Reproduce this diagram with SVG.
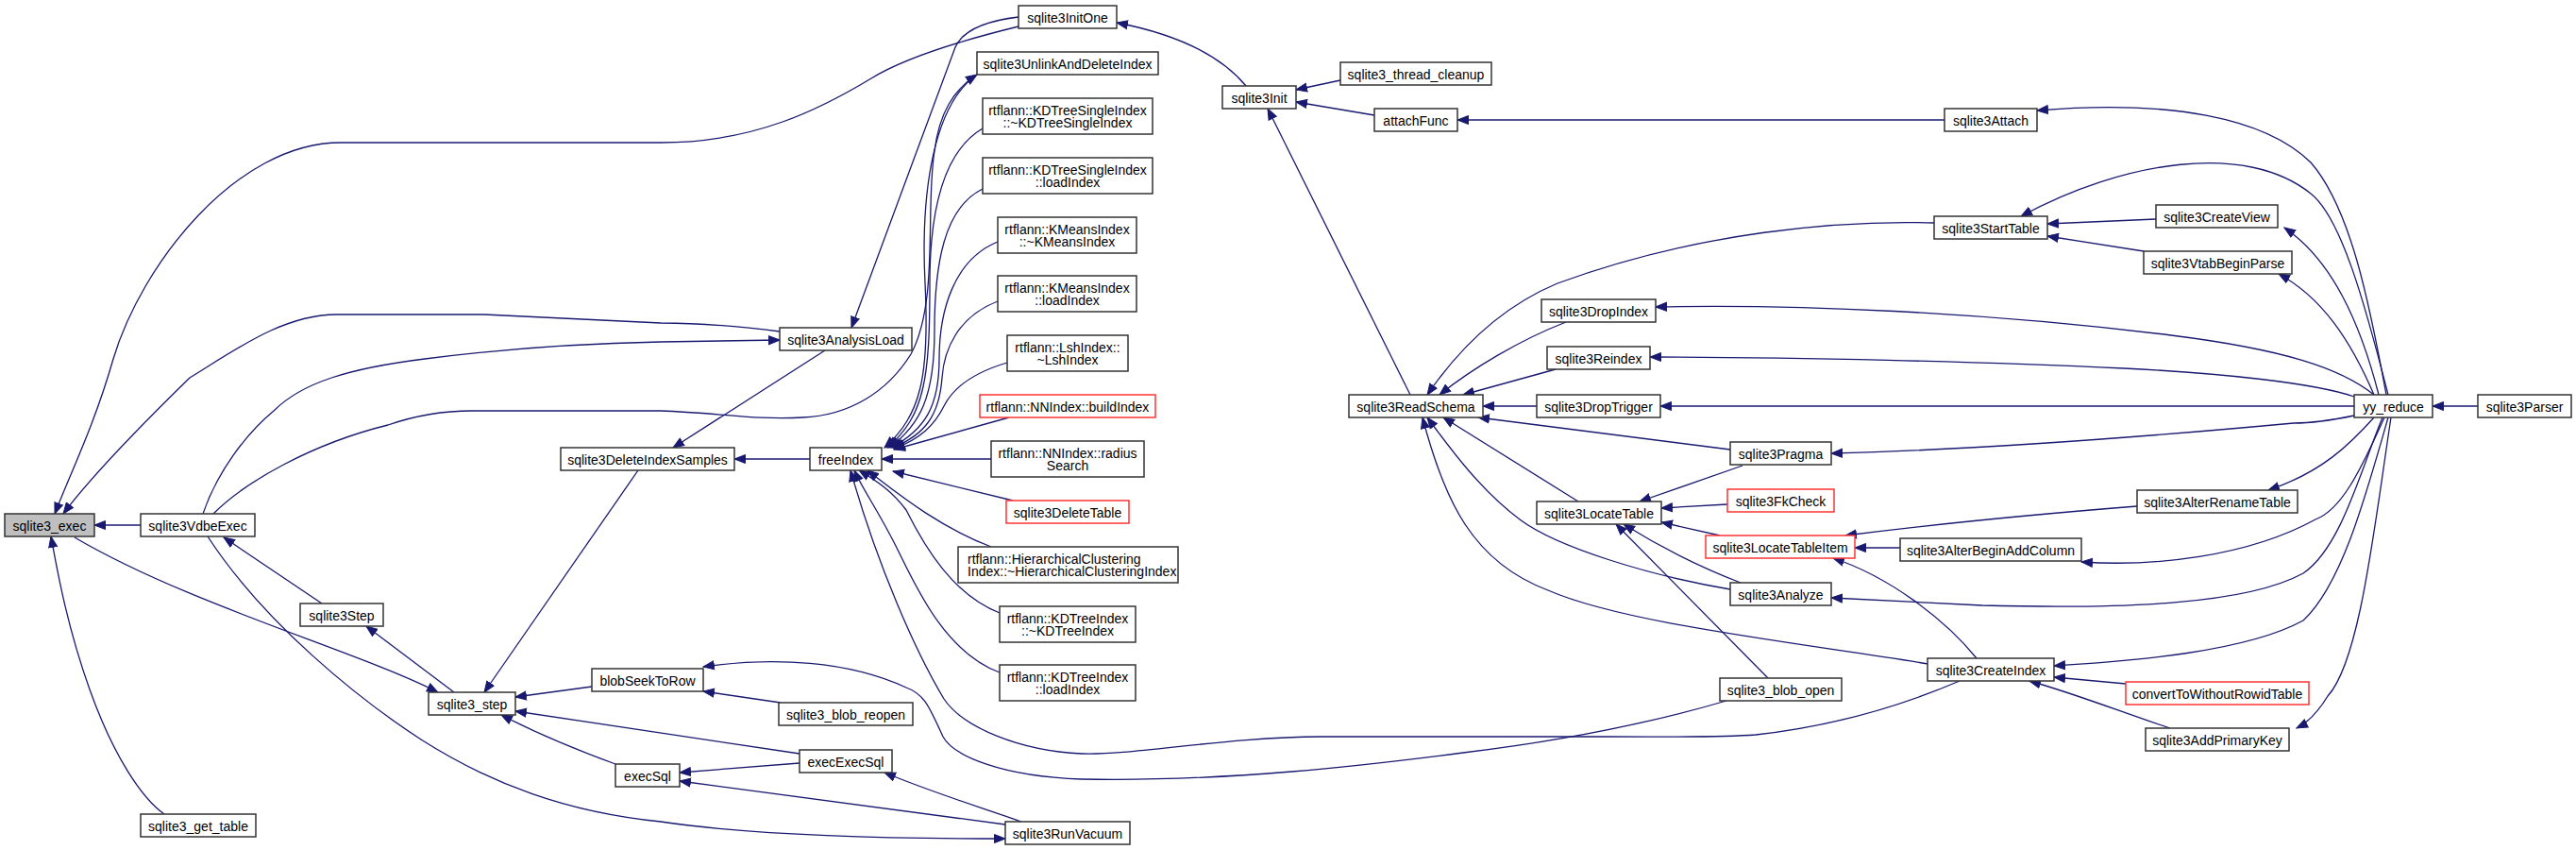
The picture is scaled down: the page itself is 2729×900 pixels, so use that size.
<svg xmlns="http://www.w3.org/2000/svg" width="2729" height="900" viewBox="0 0 2729 900">
<style>
.n rect{fill:#ffffff;stroke:#333333;stroke-width:1.5}
.n.root rect{fill:#bfbfbf}
.n.red rect{stroke:#ff3333}
.n text{font-family:"Liberation Sans",Arial,Helvetica,sans-serif;font-size:14px;fill:#000000;text-anchor:middle}
.n text.l{text-anchor:start}
#edges path{fill:none;stroke:#191970;stroke-width:1.3;marker-end:url(#ah)}
</style>
<defs>
<marker id="ah" markerUnits="userSpaceOnUse" markerWidth="13" markerHeight="11" refX="12" refY="5.5" orient="auto">
<path d="M0.5,1 L12,5.5 L0.5,10 z" fill="#191970" stroke="#191970" stroke-width="1"/>
</marker>
</defs>
<rect width="2729" height="900" fill="#ffffff"/>
<g id="edges">
<path d="M1079,28 C1030,40 960,60 923,83 C870,115 800,151 700,151 L361,151 C250,151 150,280 120,380 C100,450 75,500 58,544"/>
<path d="M826,351 C780,345 740,342 700,342 L513,333 L357,333 C300,333 250,370 201,400 C160,440 100,500 67,544"/>
<path d="M215,544 C230,500 260,460 290,435 C320,405 370,390 450,380 C550,367 650,363 700,362 L826,360"/>
<path d="M226,544 C260,510 330,470 411,450 C440,440 470,435 500,435 L700,435 C760,437 800,445 850,442 C900,440 940,415 965,375 C995,320 980,220 990,160 C995,120 1010,95 1035,79"/>
<path d="M149,556 L100,556"/>
<path d="M174,862 C150,845 120,800 95,730 C70,660 60,600 54,568"/>
<path d="M79,569 C200,640 380,690 464,733"/>
<path d="M220,568 C280,660 380,740 446,783 C520,830 600,860 700,870 C800,885 950,888 1065,888"/>
<path d="M341,639 L237,569"/>
<path d="M481,733 L388,663"/>
<path d="M676,498 L513,733"/>
<path d="M627,727 L546,738"/>
<path d="M847,798 L546,753"/>
<path d="M652,809 C600,790 560,772 531,757"/>
<path d="M874,371 L713,474"/>
<path d="M858,486 L778,486"/>
<path d="M1035,79 C990,110 975,200 980,300 C985,400 975,440 937,474"/>
<path d="M1041,136 C1000,160 985,220 985,300 C985,400 980,440 940,474"/>
<path d="M1041,200 C1000,220 990,280 990,350 C990,420 975,450 942,474"/>
<path d="M1057,256 C1010,275 995,330 995,380 C995,430 980,455 944,474"/>
<path d="M1057,319 C1015,335 1000,370 998,400 C995,440 980,460 946,474"/>
<path d="M1067,384 C1030,395 1010,410 1000,430 C990,450 975,465 947,475"/>
<path d="M1069,442 L947,476"/>
<path d="M1050,486 L934,486"/>
<path d="M1073,530 L946,499"/>
<path d="M1050,579 C1000,560 960,530 919,498"/>
<path d="M1059,649 C1010,630 980,580 960,540 C945,520 930,510 910,498"/>
<path d="M1059,712 C1000,690 970,620 950,580 C930,540 915,520 905,498"/>
<path d="M2076,721 C2020,745 1950,768 1860,778 C1820,781 1780,780 1700,780 L1400,780 C1300,780 1200,800 1146,798 C1080,795 1020,770 1000,740 C970,690 930,600 901,498"/>
<path d="M1829,742 C1750,765 1650,785 1550,797 C1450,810 1300,828 1146,825 C1060,822 1010,800 999,780 C985,750 980,735 960,728 C900,700 820,695 745,706"/>
<path d="M827,744 L745,732"/>
<path d="M847,808 L720,818"/>
<path d="M1065,873 L720,827"/>
<path d="M1082,870 C1040,855 990,840 937,818"/>
<path d="M1079,18 C1045,22 1020,32 1012,50 L902,347"/>
<path d="M1320,91 C1290,55 1240,35 1183,24"/>
<path d="M1420,85 L1373,95"/>
<path d="M1456,122 L1373,108"/>
<path d="M1494,418 L1343,115"/>
<path d="M2060,127 L1544,127"/>
<path d="M2049,236 C1950,233 1800,245 1650,300 C1590,325 1545,370 1512,418"/>
<path d="M1659,341 C1610,360 1560,390 1525,418"/>
<path d="M1648,391 L1550,418"/>
<path d="M1628,430 L1571,430"/>
<path d="M1833,476 L1566,442"/>
<path d="M1672,531 L1529,442"/>
<path d="M1833,624 C1750,610 1650,580 1610,550 C1570,520 1540,480 1512,442"/>
<path d="M2043,703 C1900,680 1720,660 1640,625 C1560,595 1530,530 1507,442"/>
<path d="M1846,493 L1737,531"/>
<path d="M1830,534 L1760,538"/>
<path d="M1822,567 L1760,553"/>
<path d="M1844,617 C1800,600 1760,580 1720,555"/>
<path d="M1873,718 L1712,555"/>
<path d="M2013,580 L1965,580"/>
<path d="M2264,536 C2150,545 2050,555 1955,567"/>
<path d="M2094,697 C2060,655 2000,610 1942,591"/>
<path d="M2524,442 C2500,500 2480,580 2440,607 C2380,640 2250,645 2100,641 L1940,633"/>
<path d="M2528,418 C2510,320 2490,220 2448,172 C2400,125 2300,105 2158,117"/>
<path d="M2530,418 C2505,320 2480,230 2448,205 C2380,150 2250,170 2141,229"/>
<path d="M2284,232 L2169,237"/>
<path d="M2271,266 L2169,250"/>
<path d="M2520,418 C2500,340 2470,275 2420,241"/>
<path d="M2515,418 C2490,360 2460,315 2414,290"/>
<path d="M2515,418 C2480,390 2420,370 2300,355 C2100,330 1900,322 1754,325"/>
<path d="M2494,420 C2450,405 2350,395 2250,390 C2100,383 1900,378 1748,378"/>
<path d="M2494,430 L1759,430"/>
<path d="M2494,440 C2470,445 2450,448 2430,448 C2300,460 2100,476 1940,480"/>
<path d="M2515,442 C2490,470 2460,500 2403,519"/>
<path d="M2526,442 C2500,500 2480,540 2453,550 C2380,590 2280,600 2205,595"/>
<path d="M2530,442 C2505,530 2480,620 2440,657 C2380,690 2260,700 2176,705"/>
<path d="M2252,724 L2176,717"/>
<path d="M2299,771 C2250,755 2200,735 2150,721"/>
<path d="M2533,442 C2515,560 2500,700 2466,737 C2455,755 2445,765 2433,771"/>
<path d="M2625,430 L2577,430"/>
</g>
<g id="n_exec" class="n root"><rect x="5" y="544" width="95" height="24"/><text x="52.5" y="561.5">sqlite3_exec</text></g>
<g id="n_vdbeexec" class="n"><rect x="149" y="544" width="121" height="24"/><text x="209.5" y="561.5">sqlite3VdbeExec</text></g>
<g id="n_get_table" class="n"><rect x="149" y="862" width="122" height="24"/><text x="210" y="879.5">sqlite3_get_table</text></g>
<g id="n_Step" class="n"><rect x="318" y="639" width="88" height="24"/><text x="362" y="656.5">sqlite3Step</text></g>
<g id="n_step" class="n"><rect x="454" y="733" width="92" height="24"/><text x="500" y="750.5">sqlite3_step</text></g>
<g id="n_delidxsamples" class="n"><rect x="594" y="474" width="184" height="24"/><text x="686" y="491.5">sqlite3DeleteIndexSamples</text></g>
<g id="n_blobseek" class="n"><rect x="627" y="708" width="118" height="24"/><text x="686" y="725.5">blobSeekToRow</text></g>
<g id="n_execsql" class="n"><rect x="652" y="809" width="68" height="24"/><text x="686" y="826.5">execSql</text></g>
<g id="n_blobreopen" class="n"><rect x="825" y="744" width="142" height="24"/><text x="896" y="761.5">sqlite3_blob_reopen</text></g>
<g id="n_execexecsql" class="n"><rect x="847" y="794" width="98" height="24"/><text x="896" y="811.5">execExecSql</text></g>
<g id="n_runvacuum" class="n"><rect x="1065" y="870" width="132" height="24"/><text x="1131" y="887.5">sqlite3RunVacuum</text></g>
<g id="n_analysisload" class="n"><rect x="826" y="347" width="140" height="24"/><text x="896" y="364.5">sqlite3AnalysisLoad</text></g>
<g id="n_initone" class="n"><rect x="1079" y="6" width="104" height="24"/><text x="1131" y="23.5">sqlite3InitOne</text></g>
<g id="n_unlink" class="n"><rect x="1035" y="55" width="192" height="24"/><text x="1131" y="72.5">sqlite3UnlinkAndDeleteIndex</text></g>
<g id="n_kdsingle_d" class="n"><rect x="1041" y="104" width="180" height="38"/><text x="1131" y="121.5">rtflann::KDTreeSingleIndex</text><text x="1131" y="135">::~KDTreeSingleIndex</text></g>
<g id="n_kdsingle_l" class="n"><rect x="1041" y="167" width="180" height="38"/><text x="1131" y="184.5">rtflann::KDTreeSingleIndex</text><text x="1131" y="198">::loadIndex</text></g>
<g id="n_kmeans_d" class="n"><rect x="1057" y="230" width="147" height="38"/><text x="1130.5" y="247.5">rtflann::KMeansIndex</text><text x="1130.5" y="261">::~KMeansIndex</text></g>
<g id="n_kmeans_l" class="n"><rect x="1057" y="292" width="147" height="38"/><text x="1130.5" y="309.5">rtflann::KMeansIndex</text><text x="1130.5" y="323">::loadIndex</text></g>
<g id="n_lsh" class="n"><rect x="1067" y="355" width="128" height="38"/><text x="1131" y="372.5">rtflann::LshIndex::</text><text x="1131" y="386">~LshIndex</text></g>
<g id="n_buildindex" class="n red"><rect x="1038" y="418" width="186" height="24"/><text x="1131" y="435.5">rtflann::NNIndex::buildIndex</text></g>
<g id="n_freeindex" class="n"><rect x="858" y="474" width="76" height="24"/><text x="896" y="491.5">freeIndex</text></g>
<g id="n_radius" class="n"><rect x="1050" y="467" width="162" height="38"/><text x="1131" y="484.5">rtflann::NNIndex::radius</text><text x="1131" y="498">Search</text></g>
<g id="n_deletetable" class="n red"><rect x="1066" y="530" width="130" height="24"/><text x="1131" y="547.5">sqlite3DeleteTable</text></g>
<g id="n_hier" class="n"><rect x="1015" y="579" width="233" height="38"/><text class="l" x="1025" y="596.5">rtflann::HierarchicalClustering</text><text class="l" x="1025" y="610">Index::~HierarchicalClusteringIndex</text></g>
<g id="n_kdtree_d" class="n"><rect x="1059" y="642" width="144" height="38"/><text x="1131" y="659.5">rtflann::KDTreeIndex</text><text x="1131" y="673">::~KDTreeIndex</text></g>
<g id="n_kdtree_l" class="n"><rect x="1059" y="704" width="144" height="38"/><text x="1131" y="721.5">rtflann::KDTreeIndex</text><text x="1131" y="735">::loadIndex</text></g>
<g id="n_init" class="n"><rect x="1295" y="91" width="78" height="24"/><text x="1334" y="108.5">sqlite3Init</text></g>
<g id="n_threadcleanup" class="n"><rect x="1420" y="66" width="160" height="24"/><text x="1500" y="83.5">sqlite3_thread_cleanup</text></g>
<g id="n_attachfunc" class="n"><rect x="1456" y="115" width="88" height="24"/><text x="1500" y="132.5">attachFunc</text></g>
<g id="n_readschema" class="n"><rect x="1429" y="418" width="142" height="24"/><text x="1500" y="435.5">sqlite3ReadSchema</text></g>
<g id="n_attach" class="n"><rect x="2060" y="115" width="98" height="24"/><text x="2109" y="132.5">sqlite3Attach</text></g>
<g id="n_starttable" class="n"><rect x="2049" y="229" width="120" height="24"/><text x="2109" y="246.5">sqlite3StartTable</text></g>
<g id="n_createview" class="n"><rect x="2284" y="217" width="129" height="24"/><text x="2348.5" y="234.5">sqlite3CreateView</text></g>
<g id="n_vtabbegin" class="n"><rect x="2271" y="266" width="157" height="24"/><text x="2349.5" y="283.5">sqlite3VtabBeginParse</text></g>
<g id="n_dropindex" class="n"><rect x="1633" y="317" width="121" height="24"/><text x="1693.5" y="334.5">sqlite3DropIndex</text></g>
<g id="n_reindex" class="n"><rect x="1639" y="367" width="109" height="24"/><text x="1693.5" y="384.5">sqlite3Reindex</text></g>
<g id="n_droptrigger" class="n"><rect x="1628" y="418" width="131" height="24"/><text x="1693.5" y="435.5">sqlite3DropTrigger</text></g>
<g id="n_pragma" class="n"><rect x="1833" y="468" width="107" height="24"/><text x="1886.5" y="485.5">sqlite3Pragma</text></g>
<g id="n_locatetable" class="n"><rect x="1628" y="531" width="132" height="24"/><text x="1694" y="548.5">sqlite3LocateTable</text></g>
<g id="n_fkcheck" class="n red"><rect x="1830" y="518" width="113" height="24"/><text x="1886.5" y="535.5">sqlite3FkCheck</text></g>
<g id="n_locatetableitem" class="n red"><rect x="1807" y="567" width="158" height="24"/><text x="1886" y="584.5">sqlite3LocateTableItem</text></g>
<g id="n_alteraddcol" class="n"><rect x="2013" y="570" width="192" height="24"/><text x="2109" y="587.5">sqlite3AlterBeginAddColumn</text></g>
<g id="n_analyze" class="n"><rect x="1833" y="617" width="107" height="24"/><text x="1886.5" y="634.5">sqlite3Analyze</text></g>
<g id="n_blobopen" class="n"><rect x="1822" y="718" width="129" height="24"/><text x="1886.5" y="735.5">sqlite3_blob_open</text></g>
<g id="n_createindex" class="n"><rect x="2042" y="697" width="134" height="24"/><text x="2109" y="714.5">sqlite3CreateIndex</text></g>
<g id="n_alterrename" class="n"><rect x="2264" y="519" width="170" height="24"/><text x="2349" y="536.5">sqlite3AlterRenameTable</text></g>
<g id="n_convert" class="n red"><rect x="2252" y="722" width="194" height="24"/><text x="2349" y="739.5">convertToWithoutRowidTable</text></g>
<g id="n_addpk" class="n"><rect x="2273" y="771" width="152" height="24"/><text x="2349" y="788.5">sqlite3AddPrimaryKey</text></g>
<g id="n_yyreduce" class="n"><rect x="2494" y="418" width="83" height="24"/><text x="2535.5" y="435.5">yy_reduce</text></g>
<g id="n_parser" class="n"><rect x="2625" y="418" width="99" height="24"/><text x="2674.5" y="435.5">sqlite3Parser</text></g>
</svg>
